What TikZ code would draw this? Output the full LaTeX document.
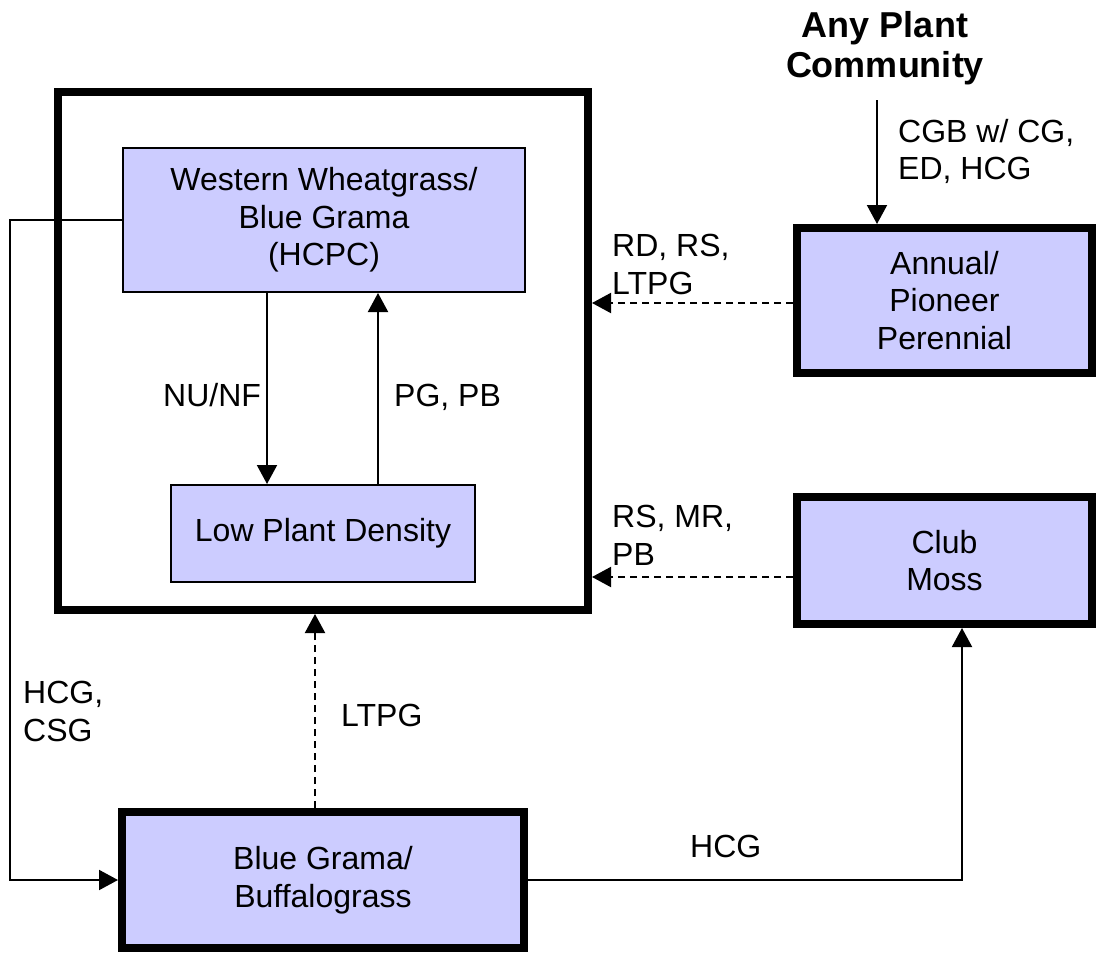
\documentclass[tikz,border=0pt]{standalone}
\usepackage{fontspec}
\setmainfont{Liberation Sans}
\usetikzlibrary{arrows.meta,calc}
\definecolor{boxfill}{RGB}{204,204,255}
\begin{document}
\begin{tikzpicture}[x=1pt,y=-1pt,
  txt/.style={font=\fontsize{32}{37.5}\selectfont, inner sep=0pt},
  thinbox/.style={draw, line width=2pt, fill=boxfill, align=center, txt},
  thickbox/.style={draw, line width=8pt, fill=boxfill, align=center, txt},
  conn/.style={line width=2pt, -{Triangle[length=19pt,width=20pt]}},
  dconn/.style={conn, dash pattern=on 7pt off 5pt},
  lbl/.style={txt, align=left}]
\useasboundingbox (0,0) rectangle (1096,953);
% boxes
\node[draw, line width=8pt, minimum width=530pt, minimum height=518pt, inner sep=0pt] (big) at (323,351) {};
\node[thinbox, minimum width=402pt, minimum height=144pt] (hcpc) at (324,220) {Western Wheatgrass/\\Blue Grama\\(HCPC)};
\node[thinbox, minimum width=304pt, minimum height=97pt] (low) at (323,533.5) {Low Plant Density};
\node[thickbox, minimum width=295pt, minimum height=145pt] (annual) at (944.5,300.5) {Annual/\\Pioneer\\Perennial};
\node[thickbox, minimum width=295pt, minimum height=127pt] (club) at (944.5,560.5) {Club\\Moss};
\node[thickbox, minimum width=402pt, minimum height=136pt] (blue) at (323,880) {Blue Grama/\\Buffalograss};
\node[font=\fontsize{36}{40}\selectfont\bfseries, align=center, inner sep=0pt] (title) at (885,48) {Any Plant\\Community};
% helper coordinates
\coordinate (lx) at (10,0);
\coordinate (xa) at (267,0);
\coordinate (xb) at (378,0);
\coordinate (xc) at (315,0);
\coordinate (xd) at (962,0);
\coordinate (ya) at (0,303);
\coordinate (yb) at (0,577);
\coordinate (src) at (877,100);
% connectors
\draw[conn] (hcpc.west) -- (hcpc.west -| lx) |- (blue.west);
\draw[conn] (hcpc.south -| xa) -- (low.north -| xa);
\draw[conn] (low.north -| xb) -- (hcpc.south -| xb);
\draw[dconn] (annual.west |- ya) -- (big.east |- ya);
\draw[dconn] (club.west |- yb) -- (big.east |- yb);
\draw[dconn] (blue.north -| xc) -- (big.south -| xc);
\draw[conn] (blue.east) -- (blue.east -| xd) -- (club.south -| xd);
\draw[conn] (src) -- (annual.north -| src);
% labels
\node[lbl, anchor=north west] (l1) at (898,119) {CGB w/ CG,\\ED, HCG};
\node[lbl, anchor=north west] (l2) at (612,234) {RD, RS,\\LTPG};
\node[lbl, anchor=north west] (l3) at (612,505) {RS, MR,\\PB};
\node[lbl, anchor=base west] (l4) at (163,406) {NU/NF};
\node[lbl, anchor=base west] (l5) at (394,406) {PG, PB};
\node[lbl, anchor=base west] (l6) at (341,726) {LTPG};
\node[lbl, anchor=north west] (l7) at (23,681) {HCG,\\CSG};
\node[lbl, anchor=base west] (l8) at (690,857) {HCG};
\end{tikzpicture}
\end{document}
